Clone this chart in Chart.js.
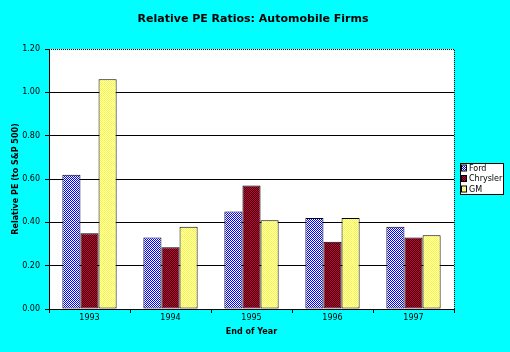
<!DOCTYPE html>
<html>
<head>
<meta charset="utf-8">
<script src="https://cdn.jsdelivr.net/npm/chart.js@4/dist/chart.umd.min.js"></script>
<style>
  html, body { margin: 0; padding: 0; background: #00ffff; }
  #wrap { width: 510px; height: 352px; }
</style>
</head>
<body>
<div id="wrap"><canvas id="peChart" width="510" height="352"></canvas></div>
<script>
const chartTitle = 'Relative PE Ratios: Automobile Firms';
const years = ['1993', '1994', '1995', '1996', '1997'];
const fordPE = [0.62, 0.33, 0.45, 0.42, 0.38];
const chryslerPE = [0.35, 0.285, 0.57, 0.31, 0.33];
const gmPE = [1.06, 0.38, 0.41, 0.42, 0.34];
const seriesNames = ['Ford', 'Chrysler', 'GM'];

// little bitmap fills like the old mac chart
function makePattern(w, h, cells) {
    const c = document.createElement('canvas');
    c.width = w; c.height = h;
    const g = c.getContext('2d');
    cells.forEach((row, y) => {
        row.forEach((col, x) => {
            g.fillStyle = col;
            g.fillRect(x, y, 1, 1);
        });
    });
    return g.createPattern(c, 'repeat');
}

const B = '#0000ff', W = '#ffffff', R = '#e00000', D = '#200040', Y = '#ffff00';
const fordFill = makePattern(2, 2, [[B, W], [W, B]]);
const chryslerFill = makePattern(2, 2, [[R, D], [D, R]]);
const gmFill = makePattern(2, 2, [[Y, W], [W, Y]]);

const font = 'Verdana, "DejaVu Sans", sans-serif';

const frameAndLegend = {
    id: 'frameAndLegend',
    beforeDraw(chart) {
        const { ctx, chartArea } = chart;
        ctx.save();
        ctx.fillStyle = '#fff';
        ctx.fillRect(chartArea.left, chartArea.top, chartArea.right - chartArea.left, chartArea.bottom - chartArea.top);
        ctx.fillStyle = '#000';
        ctx.font = 'bold 11px ' + font;
        ctx.textAlign = 'center';
        ctx.textBaseline = 'middle';
        ctx.fillText(chartTitle, 253, 19);
        ctx.restore();
    },
    afterDatasetsDraw(chart) {
        const { ctx, chartArea } = chart;
        ctx.save();
        // dotted top and right edge of the plot
        ctx.strokeStyle = '#000';
        ctx.lineWidth = 1;
        ctx.setLineDash([1, 1]);
        ctx.beginPath();
        ctx.moveTo(chartArea.left, chartArea.top + 0.5);
        ctx.lineTo(chartArea.right + 0.5, chartArea.top + 0.5);
        ctx.lineTo(chartArea.right + 0.5, chartArea.bottom);
        ctx.stroke();
        ctx.setLineDash([]);

        // legend box
        const lx = 460, ly = 163, lw = 43, lh = 31;
        ctx.fillStyle = '#fff';
        ctx.fillRect(lx, ly, lw, lh);
        ctx.strokeRect(lx + 0.5, ly + 0.5, lw, lh);
        ctx.font = '8px ' + font;
        ctx.textBaseline = 'middle';
        chart.data.datasets.forEach((ds, i) => {
            const cy = 168.5 + i * 10.5;
            ctx.fillStyle = ds.backgroundColor;
            ctx.fillRect(462, cy - 3, 4, 5);
            ctx.strokeStyle = '#000';
            ctx.strokeRect(461.5, cy - 3.5, 5, 6);
            ctx.fillStyle = '#000';
            ctx.fillText(ds.label, 469, cy);
        });
        ctx.restore();
    }
};

new Chart(document.getElementById('peChart'), {
    type: 'bar',
    data: {
        labels: years,
        datasets: [
            { label: seriesNames[0], data: fordPE, backgroundColor: fordFill },
            { label: seriesNames[1], data: chryslerPE, backgroundColor: chryslerFill },
            { label: seriesNames[2], data: gmPE, backgroundColor: gmFill }
        ]
    },
    options: {
        responsive: false,
        animation: false,
        layout: { padding: { left: 0, right: 56, top: 49, bottom: 0 } },
        datasets: {
            bar: {
                borderColor: '#000',
                borderWidth: 1,
                borderSkipped: false,
                categoryPercentage: 0.67,
                barPercentage: 1
            }
        },
        plugins: {
            legend: { display: false },
            tooltip: { enabled: false },
            title: { display: false }
        },
        scales: {
            x: {
                grid: {
                    offset: true,
                    drawOnChartArea: false,
                    color: '#000',
                    tickLength: 4
                },
                border: { color: '#000', width: 1 },
                ticks: { color: '#000', font: { family: font, size: 8 }, padding: 0, maxRotation: 0 },
                title: {
                    display: true,
                    text: 'End of Year',
                    color: '#000',
                    font: { family: font, size: 8, weight: 'bold' },
                    padding: { top: 0, bottom: 15 }
                },
                afterFit(axis) { axis.height = 43; }
            },
            y: {
                min: 0,
                max: 1.2,
                grid: {
                    color: c => (c.tick && c.tick.value > 0 && c.tick.value < 1.2) ? '#000' : 'rgba(0,0,0,0)',
                    tickColor: '#000',
                    tickLength: 4
                },
                border: { color: '#000', width: 1 },
                ticks: {
                    stepSize: 0.2,
                    color: '#000',
                    padding: 5,
                    font: { family: font, size: 8 },
                    callback: v => Number(v).toFixed(2)
                },
                title: {
                    display: true,
                    text: 'Relative PE (to S&P 500)',
                    color: '#000',
                    font: { family: font, size: 8, weight: 'bold' },
                    padding: { top: 11, bottom: 0 }
                },
                afterFit(axis) { axis.width = 49; }
            }
        }
    },
    plugins: [frameAndLegend]
});
</script>
</body>
</html>
